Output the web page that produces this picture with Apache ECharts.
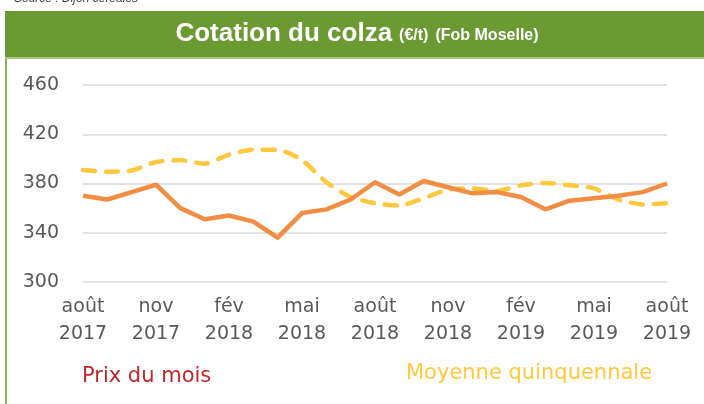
<!DOCTYPE html>
<html>
<head>
<meta charset="utf-8">
<script src="https://cdn.jsdelivr.net/npm/echarts@6/dist/echarts.min.js"></script>
<style>
  html, body { margin: 0; padding: 0; background: #fff; }
  #chart { width: 704px; height: 404px; }
</style>
</head>
<body>
<div id="chart"></div>
<script>
// mois, d'août 2017 à août 2019
const months = [
  "août 2017", "sept 2017", "oct 2017", "nov 2017", "déc 2017",
  "janv 2018", "fév 2018", "mars 2018", "avr 2018", "mai 2018",
  "juin 2018", "juil 2018", "août 2018", "sept 2018", "oct 2018",
  "nov 2018", "déc 2018", "janv 2019", "fév 2019", "mars 2019",
  "avr 2019", "mai 2019", "juin 2019", "juil 2019", "août 2019"
];
const prixDuMois = [
  370, 367, 373, 379, 360, 351, 354, 349, 336, 356, 359, 367, 381,
  371, 382, 377, 372, 373, 369, 359, 366, 368, 370, 373, 380
];
const moyenneQuinq = [
  391, 389.5, 390.5, 397.5, 399, 396, 403.5, 407.5, 407.5, 399, 381, 369, 364,
  362, 368, 375, 376, 374, 378.5, 380.5, 378.5, 376, 367, 363, 364
];
const yTicks = { min: 300, max: 460, step: 40 };

const chart = echarts.init(document.getElementById("chart"));

chart.setOption({
  animation: false,
  backgroundColor: "#fff",
  graphic: [
    {
      type: "text", left: 14, top: -7,
      style: { text: "Source : Dijon céréales", font: "italic 12px 'Liberation Sans'", fill: "#404040" }
    },
    { type: "rect", shape: { x: 5, y: 11, width: 699, height: 46 }, style: { fill: "#6b9a33" } },
    { type: "rect", shape: { x: 5, y: 57, width: 699, height: 2 }, style: { fill: "#a6c878" } },
    { type: "rect", shape: { x: 5, y: 59, width: 2, height: 345 }, style: { fill: "#8ab54a" } },
    {
      type: "text", x: 357, y: 34,
      style: {
        text: "{a|Cotation du colza}{b|(€/t)}{b|(Fob Moselle)}",
        align: "center", verticalAlign: "middle",
        rich: {
          a: { fontFamily: "Liberation Sans", fontWeight: "bold", fontSize: 26, fill: "#fff" },
          b: { fontFamily: "Liberation Sans", fontWeight: "bold", fontSize: 16, fill: "#fff", padding: [4, 0, 0, 7] }
        }
      }
    }
  ],
  legend: [
    {
      left: 72, top: 361, icon: "none", itemWidth: 0, itemGap: 0,
      data: [{ name: "Prix du mois", textStyle: { color: "#c0282d" } }],
      textStyle: { fontFamily: "DejaVu Sans", fontSize: 21 }
    },
    {
      left: 396, top: 358, icon: "none", itemWidth: 0, itemGap: 0,
      data: [{ name: "Moyenne quinquennale", textStyle: { color: "#ffc83d" } }],
      textStyle: { fontFamily: "DejaVu Sans", fontSize: 21 }
    }
  ],
  grid: { left: 83, right: 37, top: 85, bottom: 122, containLabel: false },
  xAxis: {
    type: "category",
    data: months,
    boundaryGap: false,
    axisLine: { show: false },
    axisTick: { show: false },
    axisLabel: {
      interval: 2,
      margin: 12,
      color: "#595959",
      fontFamily: "DejaVu Sans",
      fontSize: 19,
      lineHeight: 27,
      formatter: v => v.replace(" ", "\n")
    }
  },
  yAxis: {
    type: "value",
    min: yTicks.min,
    max: yTicks.max,
    interval: yTicks.step,
    axisLine: { show: false },
    axisTick: { show: false },
    axisLabel: { color: "#595959", fontFamily: "DejaVu Sans", fontSize: 19, margin: 24 },
    splitLine: { lineStyle: { color: "#d9d9d9", width: 1.5 } }
  },
  series: [
    {
      name: "Prix du mois",
      type: "line",
      data: prixDuMois,
      symbol: "none",
      z: 3,
      lineStyle: { color: "#f28e43", width: 4.5, join: "round" },
      itemStyle: { color: "#f28e43" }
    },
    {
      name: "Moyenne quinquennale",
      type: "line",
      data: moyenneQuinq,
      symbol: "none",
      smooth: 0.2,
      z: 2,
      lineStyle: { color: "#ffc83d", width: 4.5, type: [12, 11], cap: "round", join: "round" },
      itemStyle: { color: "#ffc83d" }
    }
  ]
});
</script>
</body>
</html>
